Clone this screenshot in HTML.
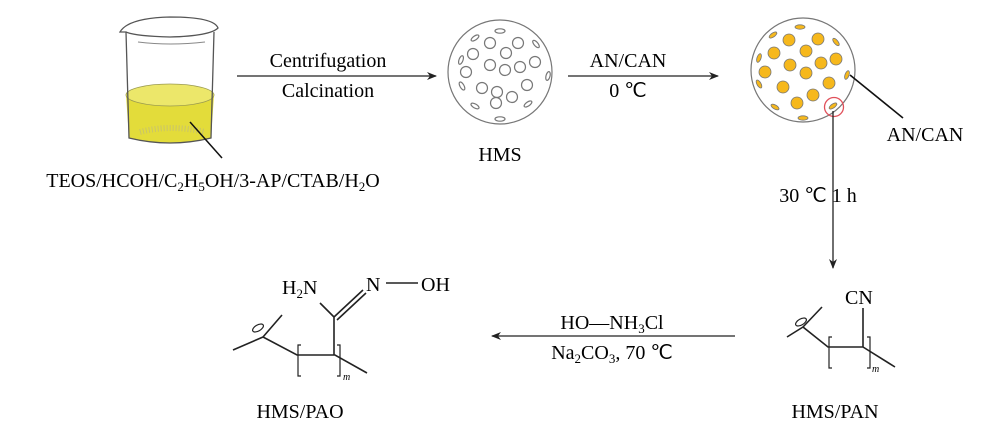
<!DOCTYPE html>
<html><head><meta charset="utf-8"><style>
html,body{margin:0;padding:0;background:#fff;}
svg{display:block;font-family:"Liberation Serif",serif;}
</style></head><body>
<svg width="990" height="444" viewBox="0 0 990 444" xmlns="http://www.w3.org/2000/svg">
<defs>
<marker id="ah" markerWidth="10" markerHeight="8" refX="9" refY="4" orient="auto" markerUnits="userSpaceOnUse">
<path d="M0,0 L10,4 L0,8 L3,4 Z" fill="#222"/></marker>
</defs>
<!-- Beaker -->
<path d="M126,95 L129,138 Q170,148 211,138 L214,95 Q170,107 126,95 Z" fill="#e3dc3a"/>
<ellipse cx="170" cy="95" rx="44" ry="11" fill="#ece76a" stroke="#9a9a50" stroke-width="0.8"/>
<path d="M140,132 Q170,124 205,132" stroke="#c9c46a" stroke-width="6" fill="none" stroke-dasharray="1 2"/>
<path d="M126,32 L129,138 Q170,148 211,138 L214,32" fill="none" stroke="#555" stroke-width="1.3"/>
<path d="M120,32 Q128,18 170,17 Q214,17 218,28 Q210,36 170,37 Q135,36 126,32 Z" fill="none" stroke="#555" stroke-width="1.3"/>
<path d="M138,42 Q170,46 205,42" stroke="#888" fill="none"/>
<line x1="190" y1="122" x2="222" y2="158" stroke="#111" stroke-width="1.5"/>
<text x="213" y="187" font-size="20" text-anchor="middle">TEOS/HCOH/C<tspan font-size="13" dy="4">2</tspan><tspan dy="-4">H</tspan><tspan font-size="13" dy="4">5</tspan><tspan dy="-4">OH/3-AP/CTAB/H</tspan><tspan font-size="13" dy="4">2</tspan><tspan dy="-4">O</tspan></text>
<!-- arrow 1 -->
<line x1="237" y1="76" x2="436" y2="76" stroke="#222" stroke-width="1.3" marker-end="url(#ah)"/>
<text x="328" y="67" font-size="20" text-anchor="middle">Centrifugation</text>
<text x="328" y="97" font-size="20" text-anchor="middle">Calcination</text>
<!-- HMS -->
<g stroke="#777" stroke-width="1.2" fill="#fff">
<circle cx="500" cy="72" r="52"/>
<circle cx="490" cy="43" r="5.5"/><circle cx="506" cy="53" r="5.5"/><circle cx="518" cy="43" r="5.5"/>
<circle cx="473" cy="54" r="5.5"/><circle cx="490" cy="65" r="5.5"/><circle cx="505" cy="70" r="5.5"/>
<circle cx="520" cy="67" r="5.5"/><circle cx="535" cy="62" r="5.5"/><circle cx="466" cy="72" r="5.5"/>
<circle cx="482" cy="88" r="5.5"/><circle cx="497" cy="92" r="5.5"/><circle cx="512" cy="97" r="5.5"/>
<circle cx="527" cy="85" r="5.5"/><circle cx="496" cy="103" r="5.5"/>
<ellipse cx="500" cy="31" rx="5" ry="2.2"/><ellipse cx="475" cy="38" rx="4.5" ry="2" transform="rotate(-35 475 38)"/>
<ellipse cx="536" cy="44" rx="4.5" ry="2" transform="rotate(50 536 44)"/><ellipse cx="461" cy="60" rx="4.5" ry="2" transform="rotate(-70 461 60)"/>
<ellipse cx="548" cy="76" rx="4.5" ry="2" transform="rotate(-75 548 76)"/><ellipse cx="462" cy="86" rx="4.5" ry="2" transform="rotate(60 462 86)"/>
<ellipse cx="475" cy="106" rx="4.5" ry="2" transform="rotate(30 475 106)"/><ellipse cx="528" cy="104" rx="4.5" ry="2" transform="rotate(-35 528 104)"/>
<ellipse cx="500" cy="119" rx="5" ry="2.2"/>
</g>
<text x="500" y="161" font-size="20" text-anchor="middle">HMS</text>
<!-- arrow 2 -->
<line x1="568" y1="76" x2="718" y2="76" stroke="#222" stroke-width="1.3" marker-end="url(#ah)"/>
<text x="628" y="67" font-size="20" text-anchor="middle">AN/CAN</text>
<text x="628" y="97" font-size="20" text-anchor="middle">0 ℃</text>
<!-- loaded sphere -->
<g stroke="#777" stroke-width="0.8" fill="#f6b81c">
<circle cx="803" cy="70" r="52" fill="#fff" stroke-width="1.2"/>
<circle cx="789" cy="40" r="6"/><circle cx="818" cy="39" r="6"/><circle cx="774" cy="53" r="6"/>
<circle cx="806" cy="51" r="6"/><circle cx="836" cy="59" r="6"/><circle cx="790" cy="65" r="6"/>
<circle cx="821" cy="63" r="6"/><circle cx="765" cy="72" r="6"/><circle cx="806" cy="73" r="6"/>
<circle cx="783" cy="87" r="6"/><circle cx="829" cy="83" r="6"/><circle cx="813" cy="95" r="6"/>
<circle cx="797" cy="103" r="6"/>
<ellipse cx="800" cy="27" rx="5" ry="2.2"/><ellipse cx="773" cy="35" rx="4.5" ry="2" transform="rotate(-35 773 35)"/>
<ellipse cx="836" cy="42" rx="4.5" ry="2" transform="rotate(50 836 42)"/><ellipse cx="759" cy="58" rx="4.5" ry="2" transform="rotate(-70 759 58)"/>
<ellipse cx="847" cy="75" rx="4.5" ry="2" transform="rotate(-70 847 75)"/><ellipse cx="759" cy="84" rx="4.5" ry="2" transform="rotate(60 759 84)"/>
<ellipse cx="775" cy="107" rx="4.5" ry="2" transform="rotate(30 775 107)"/><ellipse cx="833" cy="106" rx="4.5" ry="2" transform="rotate(-35 833 106)"/>
<ellipse cx="803" cy="118" rx="5" ry="2.2"/>
</g>
<circle cx="834" cy="107" r="9.5" fill="none" stroke="#e0505a" stroke-width="1.3"/>
<line x1="850" y1="75" x2="903" y2="118" stroke="#111" stroke-width="1.6"/>
<text x="925" y="141" font-size="20" text-anchor="middle">AN/CAN</text>
<line x1="833" y1="111" x2="833" y2="268" stroke="#222" stroke-width="1.3" marker-end="url(#ah)"/>
<text x="818" y="202" font-size="20" text-anchor="middle">30 ℃ 1 h</text>
<!-- PAN -->
<g stroke="#222" stroke-width="1.6" fill="none">
<path d="M787,337 L803,327 M822,307 L803,327 L828,347 L863,347 L895,367 M863,308 L863,347"/>
<ellipse cx="801" cy="322" rx="6" ry="3" transform="rotate(-30 801 322)" stroke-width="1.2"/>
<path d="M832,337 L829,337 L829,368 L832,368 M867,337 L870,337 L870,368 L867,368" stroke-width="1.2"/>
</g>
<text x="845" y="304" font-size="20">CN</text>
<text x="872" y="372" font-size="10" font-style="italic">m</text>
<text x="835" y="418" font-size="20" text-anchor="middle">HMS/PAN</text>
<!-- bottom arrow -->
<line x1="735" y1="336" x2="492" y2="336" stroke="#222" stroke-width="1.3" marker-end="url(#ah)"/>
<text x="612" y="329" font-size="20" text-anchor="middle">HO—NH<tspan font-size="13" dy="4">3</tspan><tspan dy="-4">Cl</tspan></text>
<text x="612" y="359" font-size="20" text-anchor="middle">Na<tspan font-size="13" dy="4">2</tspan><tspan dy="-4">CO</tspan><tspan font-size="13" dy="4">3</tspan><tspan dy="-4">, 70 ℃</tspan></text>
<!-- PAO -->
<g stroke="#222" stroke-width="1.6" fill="none">
<path d="M233,350 L263,337 M282,315 L263,337 L297,355 L335,355 L367,373 M334,317 L334,355 M320,303 L334,317 M334,317 L363,290 M337,320 L366,293 M386,283 L418,283"/>
<ellipse cx="258" cy="328" rx="6" ry="3" transform="rotate(-30 258 328)" stroke-width="1.2"/>
<path d="M301,345 L298,345 L298,376 L301,376 M337,345 L340,345 L340,376 L337,376" stroke-width="1.2"/>
</g>
<text x="282" y="294" font-size="20">H<tspan font-size="13" dy="4">2</tspan><tspan dy="-4">N</tspan></text>
<text x="366" y="291" font-size="20">N</text>
<text x="421" y="291" font-size="20">OH</text>
<text x="343" y="380" font-size="10" font-style="italic">m</text>
<text x="300" y="418" font-size="20" text-anchor="middle">HMS/PAO</text>
</svg>
</body></html>
